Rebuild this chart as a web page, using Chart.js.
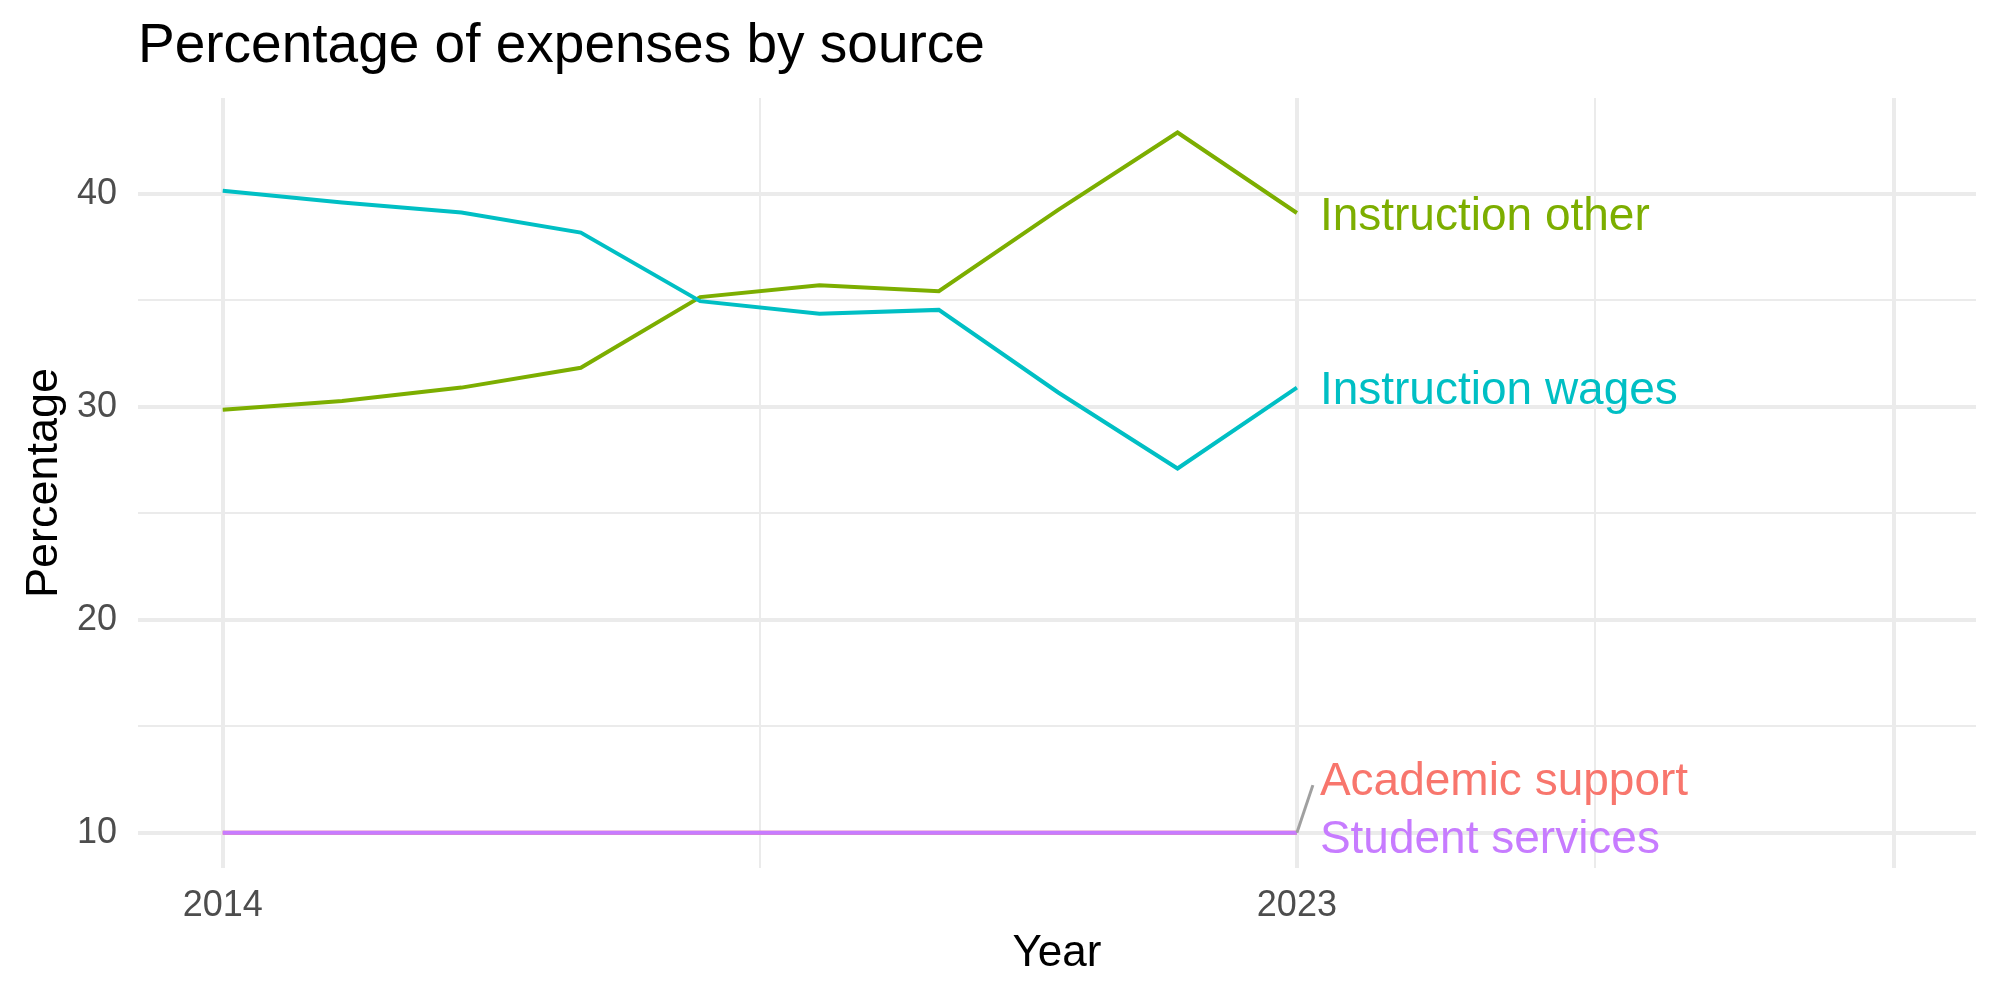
<!DOCTYPE html>
<html>
<head>
<meta charset="utf-8">
<script src="https://cdn.jsdelivr.net/npm/chart.js@4.4.0/dist/chart.umd.min.js"></script>
<style>
  html, body { margin: 0; padding: 0; background: #fff; }
  #wrap { width: 2000px; height: 1000px; }
</style>
</head>
<body>
<div id="wrap"><canvas id="expenseChart" width="2000" height="1000"></canvas></div>
<script>
// data
const years = [2014, 2015, 2016, 2017, 2018, 2019, 2020, 2021, 2022, 2023];
const academicSupport = [10, 10, 10, 10, 10, 10, 10, 10, 10, 10];
const instructionOther = [29.86, 30.27, 30.9, 31.83, 35.15, 35.71, 35.43, 39.25, 42.88, 39.1];
const instructionWages = [40.14, 39.59, 39.12, 38.18, 34.96, 34.37, 34.55, 30.67, 27.1, 30.9];
const studentServices = [10, 10, 10, 10, 10, 10, 10, 10, 10, 10];

const seriesNames = ['Academic support', 'Instruction other', 'Instruction wages', 'Student services'];
const seriesColors = ['#F8766D', '#7CAE00', '#00BFC4', '#C77CFF'];
const labelNudge = [2.56, 0, 0, -0.15]; // repelled labels, in data units

const xTicks = [2014, 2018.5, 2023, 2025.5, 2028];
const xTickLabels = ['2014', '', '2023', '', ''];
const xMajor = [2014, 2023, 2028];
const yTicks = [10, 15, 20, 25, 30, 35, 40];
const yTickLabels = ['10', '', '20', '', '30', '', '40'];

const FONT = "'Liberation Sans', Arial, sans-serif";
const allSeries = [academicSupport, instructionOther, instructionWages, studentServices];

const datasets = allSeries.map((vals, i) => ({
  label: seriesNames[i],
  data: years.map((y, j) => ({ x: y, y: vals[j] })),
  borderColor: seriesColors[i],
  backgroundColor: seriesColors[i],
  borderWidth: 4,
  pointRadius: 0,
  tension: 0,
  order: allSeries.length - i, // last series drawn on top, like ggplot
}));

// draws the series name at the end of each line (like ggrepel labels)
const endLabels = {
  id: 'endLabels',
  afterDatasetsDraw(chart) {
    const { ctx, scales: { x, y } } = chart;
    ctx.save();
    ctx.font = `46px ${FONT}`;
    ctx.textAlign = 'left';
    ctx.textBaseline = 'middle';
    chart.data.datasets.forEach((ds, i) => {
      const last = ds.data[ds.data.length - 1];
      const px = x.getPixelForValue(last.x);
      const py = y.getPixelForValue(last.y);
      const tx = px + 23;
      const ty = y.getPixelForValue(last.y + labelNudge[i]);
      if (labelNudge[i] > 1) {
        ctx.strokeStyle = '#A0A0A0';
        ctx.lineWidth = 3;
        ctx.beginPath();
        ctx.moveTo(px, py);
        ctx.lineTo(tx - 7, ty + 7);
        ctx.stroke();
      }
      ctx.fillStyle = seriesColors[i];
      ctx.fillText(ds.label, tx, ty + 4);
    });
    ctx.restore();
  }
};

new Chart(document.getElementById('expenseChart'), {
  type: 'line',
  data: { datasets },
  options: {
    responsive: false,
    animation: false,
    devicePixelRatio: 1,
    layout: { padding: { left: 0, right: 24, top: 0, bottom: 0 } },
    plugins: {
      legend: { display: false },
      tooltip: { enabled: false },
      title: {
        display: true,
        text: 'Percentage of expenses by source',
        align: 'start',
        fullSize: false,
        color: '#000',
        font: { family: FONT, size: 55, weight: 'normal', lineHeight: 1.2 },
        padding: { top: 14, bottom: 18 },
      },
    },
    scales: {
      x: {
        type: 'linear',
        min: 2013.29,
        max: 2028.69,
        afterBuildTicks: (s) => { s.ticks = xTicks.map(v => ({ value: v })); },
        afterFit: (s) => { s.height = 132; },
        ticks: {
          autoSkip: false,
          maxRotation: 0,
          padding: 16,
          color: '#4D4D4D',
          font: { family: FONT, size: 36 },
          callback: (v) => xTickLabels[xTicks.indexOf(v)],
        },
        grid: {
          color: '#EBEBEB',
          lineWidth: (c) => (c.tick && xMajor.includes(c.tick.value) ? 4 : 2),
          drawTicks: false,
        },
        border: { display: false },
        title: {
          display: true,
          text: 'Year',
          color: '#000',
          font: { family: FONT, size: 44 },
          padding: { top: 0, bottom: 20 },
        },
      },
      y: {
        type: 'linear',
        min: 8.34,
        max: 44.5,
        afterBuildTicks: (s) => { s.ticks = yTicks.map(v => ({ value: v })); },
        afterFit: (s) => { s.width = 138; },
        ticks: {
          autoSkip: false,
          padding: 21,
          color: '#4D4D4D',
          font: { family: FONT, size: 36 },
          callback: (v) => yTickLabels[yTicks.indexOf(v)],
        },
        grid: {
          color: '#EBEBEB',
          lineWidth: (c) => (c.tick && c.tick.value % 10 === 0 ? 4 : 2),
          drawTicks: false,
        },
        border: { display: false },
        title: {
          display: true,
          text: 'Percentage',
          color: '#000',
          font: { family: FONT, size: 45 },
          padding: { top: 18, bottom: 0 },
        },
      },
    },
  },
  plugins: [endLabels],
});
</script>
</body>
</html>
